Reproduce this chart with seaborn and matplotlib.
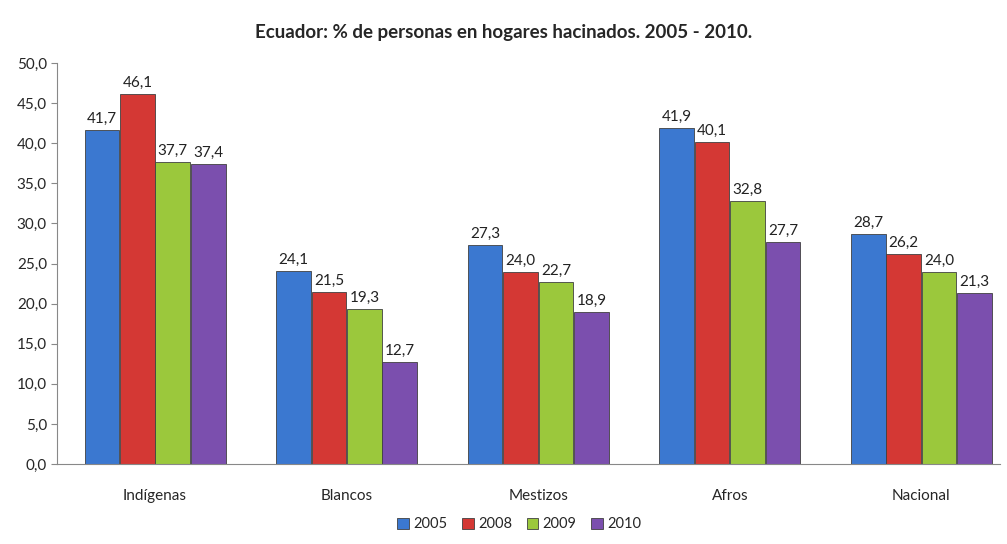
import pandas as pd
import matplotlib.pyplot as plt
import seaborn as sns

# Datos
grupos = ['Indígenas', 'Blancos', 'Mestizos', 'Afros', 'Nacional']
anios = ['2005', '2008', '2009', '2010']
v2005 = [41.7, 24.1, 27.3, 41.9, 28.7]
v2008 = [46.1, 21.5, 24.0, 40.1, 26.2]
v2009 = [37.7, 19.3, 22.7, 32.8, 24.0]
v2010 = [37.4, 12.7, 18.9, 27.7, 21.3]
colores = ['#3b78d0', '#d43834', '#9bc83c', '#7b4fae']

df = pd.DataFrame({
    'grupo': grupos * 4,
    'anio': [a for a in anios for _ in grupos],
    'valor': v2005 + v2008 + v2009 + v2010,
})

sns.set_style('white')
plt.rcParams['font.family'] = ['Lato', 'DejaVu Sans']

fig = plt.figure(figsize=(10.07, 5.44), dpi=100)
ax = fig.add_axes([0.057, 0.147, 0.936, 0.737])
sns.barplot(data=df, x='grupo', y='valor', hue='anio', palette=colores,
            width=0.74, gap=0.02, edgecolor='#404040', linewidth=0.6,
            saturation=1, ax=ax)

for cont in ax.containers:
    ax.bar_label(cont, labels=[f'{b.get_height():.1f}'.replace('.', ',') for b in cont],
                 padding=3, fontsize=11, color='#222222')

ax.set_ylim(0, 50)
ax.set_yticks(range(0, 51, 5))
ax.set_yticklabels([f'{t:.1f}'.replace('.', ',') for t in range(0, 51, 5)], fontsize=11)
ax.tick_params(axis='x', labelsize=11, length=0, pad=18)
ax.tick_params(axis='y', length=4, direction='out', color='#888888', left=True)
ax.set_xlabel('')
ax.set_ylabel('')
ax.set_xlim(-0.51, 4.41)
for s in ['top', 'right']:
    ax.spines[s].set_visible(False)
ax.spines['left'].set_color('#888888')
ax.spines['bottom'].set_color('#888888')

ax.legend(loc='upper center', bbox_to_anchor=(0.49, -0.1), ncol=4, frameon=False,
          fontsize=10.5, handlelength=0.8, handleheight=0.8, handletextpad=0.3,
          columnspacing=1.0)

fig.suptitle('Ecuador: % de personas en hogares hacinados. 2005 - 2010.',
             x=0.5, y=0.955, fontsize=13.5, fontweight='bold')

fig.savefig('out.png', dpi=100)
